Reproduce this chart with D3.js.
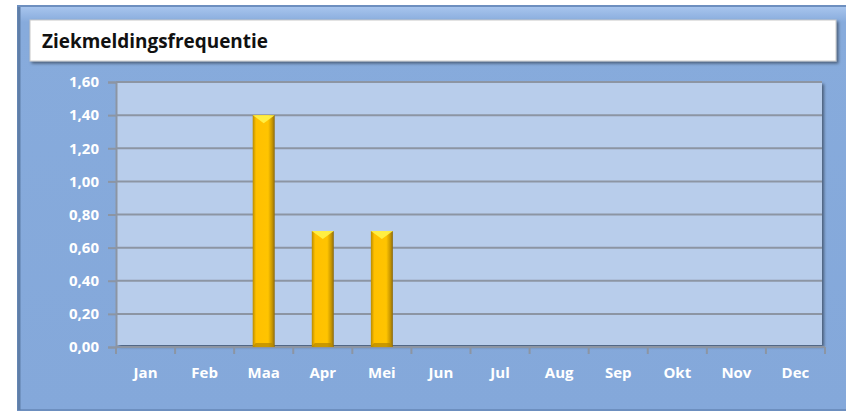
<!DOCTYPE html>
<html>
<head>
<meta charset="utf-8">
<script src="https://cdn.jsdelivr.net/npm/d3@7"></script>
<style>
  body { margin: 0; background: #fff; }
  svg text { font-family: "Open Sans", "Lato", sans-serif; }
</style>
</head>
<body>
<svg id="chart" width="846" height="412"></svg>
<script>
var maanden = ["Jan", "Feb", "Maa", "Apr", "Mei", "Jun", "Jul", "Aug", "Sep", "Okt", "Nov", "Dec"];
var frequentie = [null, null, 1.40, 0.70, 0.70, null, null, null, null, null, null, null];
var yTicks = [0, 0.2, 0.4, 0.6, 0.8, 1.0, 1.2, 1.4, 1.6];
var titel = "Ziekmeldingsfrequentie";

var svg = d3.select("#chart");
var defs = svg.append("defs");

// outer panel gradient
var pg = defs.append("linearGradient").attr("id", "panel").attr("x1", 0).attr("y1", 0).attr("x2", 0).attr("y2", 1);
pg.append("stop").attr("offset", "0").attr("stop-color", "#a9c6ee");
pg.append("stop").attr("offset", "0.04").attr("stop-color", "#87abdc");
pg.append("stop").attr("offset", "1").attr("stop-color", "#84a8da");

// bar gradient (cylinder look)
var bg = defs.append("linearGradient").attr("id", "bar").attr("x1", 0).attr("y1", 0).attr("x2", 1).attr("y2", 0);
bg.append("stop").attr("offset", "0").attr("stop-color", "#b88a00");
bg.append("stop").attr("offset", "0.15").attr("stop-color", "#ffc000");
bg.append("stop").attr("offset", "0.7").attr("stop-color", "#ffc400");
bg.append("stop").attr("offset", "0.88").attr("stop-color", "#c99700");
bg.append("stop").attr("offset", "1").attr("stop-color", "#8a6a10");

var sh = defs.append("filter").attr("id", "shadow").attr("x", "-5%").attr("y", "-5%").attr("width", "110%").attr("height", "120%");
sh.append("feDropShadow").attr("dx", 2).attr("dy", 2).attr("stdDeviation", 1.5).attr("flood-color", "#000").attr("flood-opacity", 0.45);

// panel
svg.append("rect")
    .attr("x", 18).attr("y", 6).attr("width", 840).attr("height", 404)
    .attr("fill", "url(#panel)")
    .attr("stroke", "#6d8fbf").attr("stroke-width", 2);
svg.append("line").attr("x1", 19).attr("x2", 19).attr("y1", 7).attr("y2", 410)
    .attr("stroke", "#5f7ea8").attr("stroke-width", 3);

// title box
svg.append("rect")
    .attr("x", 30).attr("y", 20).attr("width", 806).attr("height", 41)
    .attr("fill", "#fff").attr("stroke", "#c8c8c8").attr("stroke-width", 1)
    .attr("filter", "url(#shadow)");
svg.append("text")
    .attr("x", 42).attr("y", 48)
    .attr("font-size", 19).attr("font-weight", "bold").attr("fill", "#111")
    .attr("textLength", 226).attr("lengthAdjust", "spacingAndGlyphs")
    .text(titel);

var margin = {left: 116, right: 825, top: 82, bottom: 347};

var x = d3.scaleBand().domain(maanden).range([margin.left, margin.right]).paddingInner(0).paddingOuter(0);
var y = d3.scaleLinear().domain([0, 1.6]).range([margin.bottom, margin.top]);

// plot area
svg.append("rect")
    .attr("x", margin.left + 1).attr("y", margin.top)
    .attr("width", margin.right - margin.left - 4).attr("height", margin.bottom - margin.top - 2)
    .attr("fill", "#b8cdeb")
    .attr("filter", "url(#shadow)");

// gridlines
svg.append("g").selectAll("line")
    .data(yTicks.filter(function(d){ return d > 0; }))
    .enter().append("line")
    .attr("x1", margin.left).attr("x2", margin.right - 3)
    .attr("y1", function(d){ return y(d); }).attr("y2", function(d){ return y(d); })
    .attr("stroke", "#8c95a3").attr("stroke-width", 2);

// y axis
var yAxis = d3.axisLeft(y).tickValues(yTicks).tickSize(8).tickPadding(9)
    .tickFormat(function(d){ return d3.format(".2f")(d).replace(".", ","); });
var gy = svg.append("g").attr("transform", "translate(" + margin.left + ",0)").call(yAxis);
gy.select(".domain").attr("stroke", "#8c95a3").attr("stroke-width", 2);
gy.selectAll(".tick line").attr("stroke", "#8c95a3").attr("stroke-width", 2);
gy.selectAll("text").attr("fill", "#fff").attr("font-size", 15).attr("font-weight", "bold")
    .attr("font-family", "'Open Sans', sans-serif");

// x axis
var gx = svg.append("g").attr("transform", "translate(0," + margin.bottom + ")")
    .call(d3.axisBottom(x).tickSize(0).tickPadding(20));
gx.select(".domain").remove();
gx.selectAll("text").attr("fill", "#fff").attr("font-size", 15).attr("font-weight", "bold")
    .attr("font-family", "'Open Sans', sans-serif");
svg.append("line").attr("x1", margin.left).attr("x2", margin.right)
    .attr("y1", margin.bottom).attr("y2", margin.bottom)
    .attr("stroke", "#8c95a3").attr("stroke-width", 2);
svg.append("g").selectAll("line")
    .data(maanden.concat(["end"]))
    .enter().append("line")
    .attr("x1", function(d, i){ return margin.left + i * x.bandwidth(); })
    .attr("x2", function(d, i){ return margin.left + i * x.bandwidth(); })
    .attr("y1", margin.bottom).attr("y2", margin.bottom + 7)
    .attr("stroke", "#8c95a3").attr("stroke-width", 2);

// bars
var barW = 22;
var bars = svg.append("g").selectAll("g")
    .data(maanden.map(function(m, i){ return {m: m, v: frequentie[i]}; }).filter(function(d){ return d.v != null; }))
    .enter().append("g");
bars.append("rect")
    .attr("x", function(d){ return x(d.m) + x.bandwidth() / 2 - barW / 2; })
    .attr("y", function(d){ return y(d.v); })
    .attr("width", barW)
    .attr("height", function(d){ return y(0) - y(d.v); })
    .attr("fill", "url(#bar)");
// bevelled top
bars.append("path")
    .attr("d", function(d){
        var x0 = x(d.m) + x.bandwidth() / 2 - barW / 2, y0 = y(d.v);
        return "M" + x0 + "," + y0 + "L" + (x0 + barW) + "," + y0 + "L" + (x0 + barW / 2) + "," + (y0 + 8) + "Z";
    })
    .attr("fill", "#fff34a").attr("opacity", 0.9);
bars.append("path")
    .attr("d", function(d){
        var x0 = x(d.m) + x.bandwidth() / 2 - barW / 2, y0 = y(0);
        return "M" + (x0 + 3) + "," + (y0 - 4) + "L" + (x0 + barW - 3) + "," + (y0 - 4) + "L" + (x0 + barW) + "," + y0 + "L" + x0 + "," + y0 + "Z";
    })
    .attr("fill", "#b38600").attr("opacity", 0.7);
</script>
</body>
</html>
